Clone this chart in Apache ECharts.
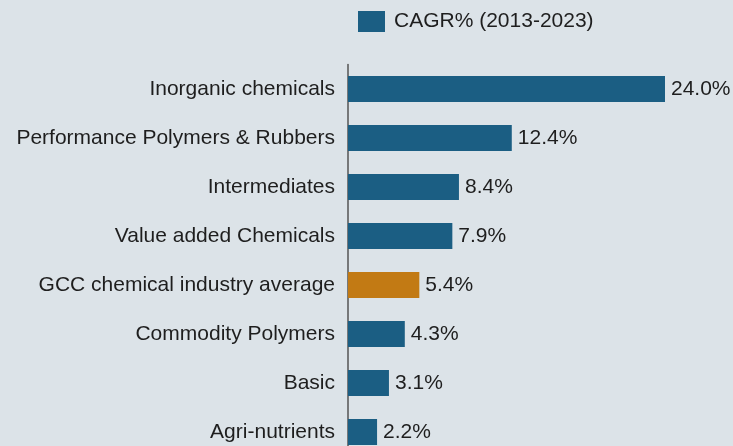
<!DOCTYPE html>
<html><head><meta charset="utf-8">
<script src="https://cdn.jsdelivr.net/npm/echarts@6/dist/echarts.min.js"></script>
<style>html,body{margin:0;padding:0;background:#dce3e8;}#c{width:733px;height:446px;}</style>
</head><body><div id="c"></div>
<script>
const categories = ["Inorganic chemicals","Performance Polymers & Rubbers","Intermediates","Value added Chemicals","GCC chemical industry average","Commodity Polymers","Basic","Agri-nutrients"];
const values = [24.0, 12.4, 8.4, 7.9, 5.4, 4.3, 3.1, 2.2];
const highlight = "GCC chemical industry average";
const seriesName = "CAGR% (2013-2023)";
const BLUE = "#1b5e83", ORANGE = "#c27a14";
const chart = echarts.init(document.getElementById('c'));
chart.setOption({
  backgroundColor: "#dce3e8",
  animation: false,
  textStyle: {fontFamily: "Liberation Sans, Arial, sans-serif"},
  legend: {
    top: 6, left: 353, itemWidth: 27, itemHeight: 21, itemGap: 10,
    textStyle: {fontSize: 21, color: "#1e1e1e", fontFamily: "Liberation Sans", padding: [0, 0, 0, 4]},
    data: [{name: seriesName, icon: "rect", itemStyle: {color: BLUE}}]
  },
  grid: {left: 348, right: 68, top: 64.5, height: 392, containLabel: false, outerBoundsMode: "none"},
  xAxis: {type: "value", min: 0, max: 24, show: false},
  yAxis: {
    type: "category", inverse: true, data: categories,
    axisLine: {show: true, lineStyle: {color: "#555", width: 1.5}},
    axisTick: {show: false},
    axisLabel: {fontSize: 21, color: "#1e1e1e", margin: 13, fontFamily: "Liberation Sans"}
  },
  series: [{
    name: seriesName, type: "bar", barWidth: 26,
    data: values.map((v, i) => ({value: v, itemStyle: {color: categories[i] === highlight ? ORANGE : BLUE}})),
    itemStyle: {color: BLUE},
    label: {show: true, position: "right", distance: 6, fontSize: 21, color: "#1e1e1e",
      fontFamily: "Liberation Sans", formatter: p => p.value.toFixed(1) + "%"}
  }]
});
</script></body></html>
